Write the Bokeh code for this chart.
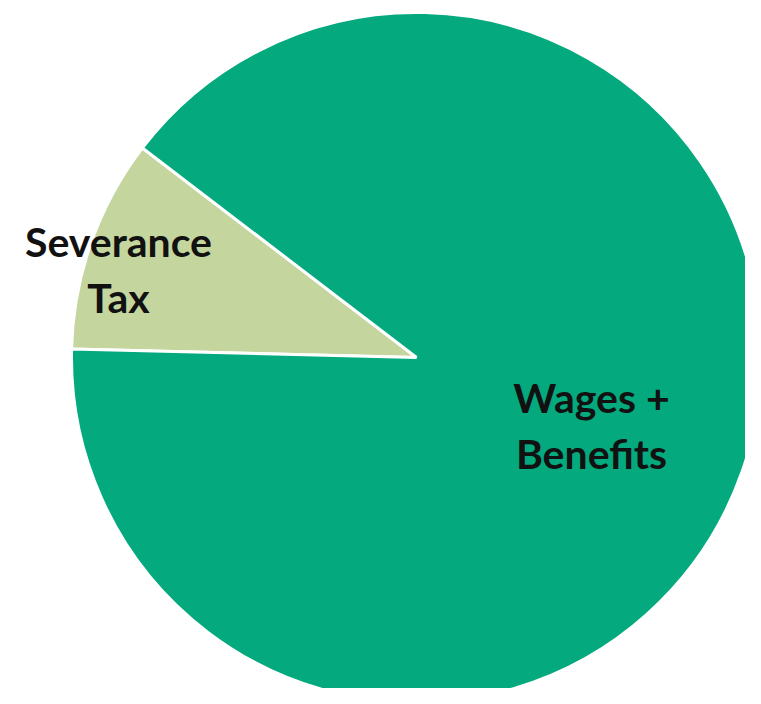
import math
from bokeh.plotting import figure
from bokeh.models import Range1d, ColumnDataSource
from bokeh.core.properties import value
from bokeh.embed import file_html
from bokeh.resources import INLINE

# ---- data ----
categories = ["Severance Tax", "Wages + Benefits"]
shares = [10, 90]
colors = ["#C4D59E", "#04A97E"]

# ---- layout / style ----
W, H = 745, 688
CX, CY, R = 416, 331, 345
START_DEG = 178.6  # severance slice starts here, going clockwise

total = float(sum(shares))
starts, ends = [], []
a = math.radians(START_DEG)
for v in shares:
    span = 2 * math.pi * v / total
    ends.append(a)
    starts.append(a - span)
    a -= span

src = ColumnDataSource(dict(cat=categories, val=shares, color=colors,
                            start=starts, end=ends))

p = figure(width=W, height=H, output_backend="svg", toolbar_location=None,
           x_range=Range1d(0, W), y_range=Range1d(0, H), min_border=0)
p.axis.visible = False
p.grid.visible = False
p.outline_line_color = None
p.background_fill_color = "white"
p.border_fill_color = "white"

p.wedge(x=CX, y=CY, radius=R, start_angle="start", end_angle="end",
        fill_color="color", line_color="white", line_width=3, source=src)

# labels (lines of each category label)
label_lines = [["Severance", "Tax"], ["Wages +", "Benefits"]]
label_xy = [(118, 447), (591, 291)]
line_gap = 56
for lines, (lx, ly) in zip(label_lines, label_xy):
    xs = [lx] * len(lines)
    ys = [ly - i * line_gap for i in range(len(lines))]
    p.text(x=xs, y=ys, text=lines, text_align="center", text_baseline="middle",
           text_font=value("Lato"), text_font_style="bold",
           text_font_size="41px", text_color="#111111")

open("out.html", "w").write(file_html(p, INLINE))
